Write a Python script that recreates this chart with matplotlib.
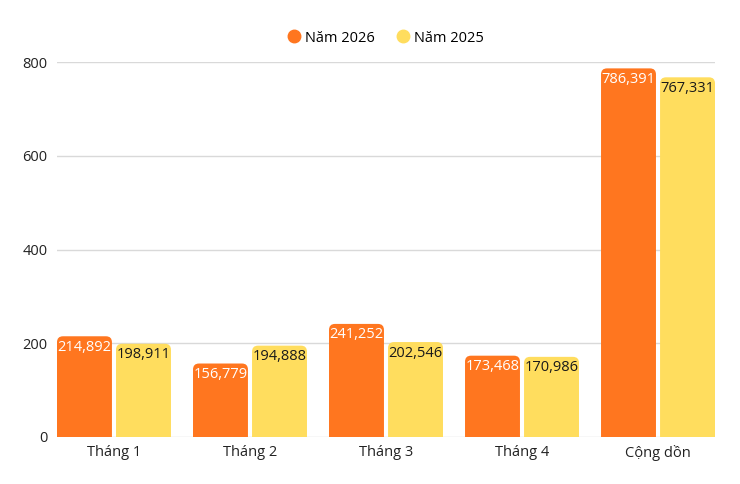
import numpy as np
import matplotlib
matplotlib.use('Agg')
import matplotlib.pyplot as plt
from matplotlib.patches import FancyBboxPatch
from matplotlib.lines import Line2D

plt.rcParams['font.family'] = ['Open Sans', 'DejaVu Sans']

categories = ['Tháng 1', 'Tháng 2', 'Tháng 3', 'Tháng 4', 'Cộng dồn']
nam_2026 = [214.892, 156.779, 241.252, 173.468, 786.391]
nam_2025 = [198.911, 194.888, 202.546, 170.986, 767.331]
series_names = ['Năm 2026', 'Năm 2025']
yticks = [0, 200, 400, 600, 800]

orange = '#FF761F'
yellow = '#FFDD5E'

fig = plt.figure(figsize=(7.4, 4.84), dpi=100)
ax = fig.add_axes([57/740, 47/484, 658/740, 375/484])

x = np.arange(len(categories))
width = 0.404
offset = 0.217

ax.set_xlim(-0.419, len(categories) - 1 + 0.419)
ax.set_ylim(0, 800)

# pixels per data unit, used to keep the corner rounding circular
px_x = 658 / (ax.get_xlim()[1] - ax.get_xlim()[0])
px_y = 375 / 800
r = 6 / px_x
aspect = px_x / px_y


def draw_bars(xs, vals, color, txt_color):
    for xi, v in zip(xs, vals):
        p = FancyBboxPatch((xi - width / 2, -30), width, v + 30,
                           boxstyle=f'round,pad=0,rounding_size={r}',
                           mutation_aspect=aspect, facecolor=color,
                           edgecolor='none', zorder=3)
        ax.add_patch(p)
        ax.annotate(f'{v:.3f}'.replace('.', ','), (xi, v), xytext=(0, -2.5),
                    textcoords='offset points', ha='center', va='top',
                    fontsize=10.5, color=txt_color, zorder=4)


draw_bars(x - offset, nam_2026, orange, 'white')
draw_bars(x + offset, nam_2025, yellow, '#1a1a1a')

ax.set_yticks(yticks)
ax.set_yticklabels([str(t) for t in yticks])
ax.set_xticks(x)
ax.set_xticklabels(categories)
ax.tick_params(axis='both', length=0, labelsize=10.5, colors='#222222')
ax.tick_params(axis='y', pad=7)
ax.tick_params(axis='x', pad=6)
ax.yaxis.grid(True, color='#d9d9d9', linewidth=1, zorder=0)
ax.set_axisbelow(True)
for s in ax.spines.values():
    s.set_visible(False)

handles = [Line2D([], [], marker='o', linestyle='', markersize=9,
                  markerfacecolor=c, markeredgecolor=c) for c in (orange, yellow)]
fig.legend(handles, series_names, loc='center', bbox_to_anchor=(386/740, 1 - 38/484),
           ncol=2, frameon=False, fontsize=10.5, handlelength=0.8,
           handletextpad=0.4, columnspacing=1.5)

fig.savefig('out.png', dpi=100, facecolor='white')
